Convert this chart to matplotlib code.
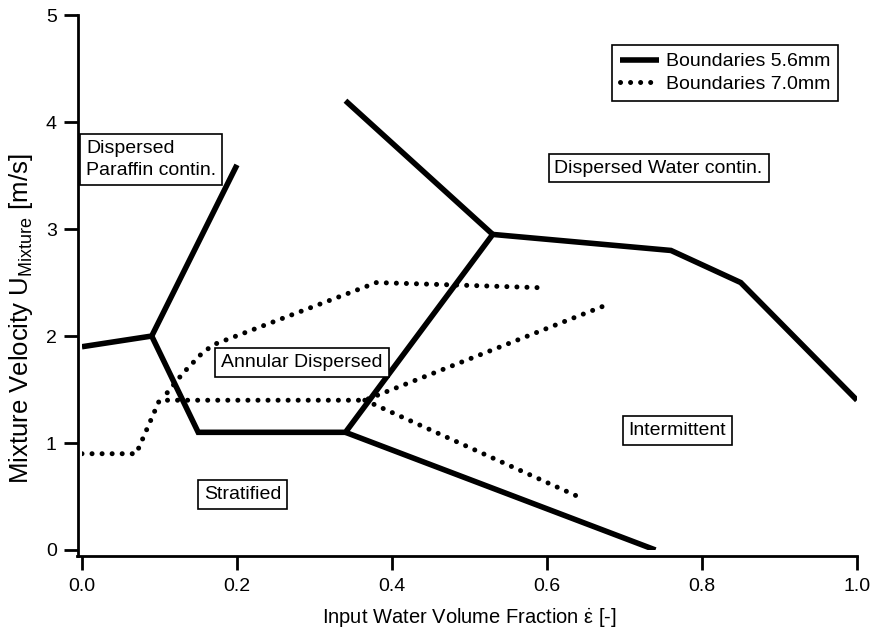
import numpy as np
import matplotlib
matplotlib.use('Agg')
import matplotlib.pyplot as plt

plt.rcParams['font.family'] = ['Liberation Sans', 'DejaVu Sans']
plt.rcParams['mathtext.fontset'] = 'custom'
plt.rcParams['mathtext.rm'] = 'Liberation Sans'
plt.rcParams['mathtext.it'] = 'Liberation Sans:italic'
plt.rcParams['font.size'] = 14

# Boundaries 5.6mm (solid), several polylines
solid_x = [[0.0, 0.09, 0.2],
           [0.09, 0.15, 0.34, 0.53, 0.76, 0.85, 1.0],
           [0.34, 0.74],
           [0.34, 0.53]]
solid_y = [[1.9, 2.0, 3.6],
           [2.0, 1.1, 1.1, 2.95, 2.8, 2.5, 1.4],
           [1.1, 0.0],
           [4.2, 2.95]]

# Boundaries 7.0mm (dotted)
dot_x = [[0.0, 0.07, 0.1, 0.365, 0.68],
         [0.365, 0.64],
         [0.11, 0.13, 0.155, 0.17, 0.38, 0.47, 0.6]]
dot_y = [[0.9, 0.9, 1.4, 1.4, 2.3],
         [1.4, 0.5],
         [1.47, 1.65, 1.84, 1.92, 2.5, 2.48, 2.45]]

regions = ['Dispersed\nParaffin contin.', 'Dispersed Water contin.',
           'Annular Dispersed', 'Stratified', 'Intermittent']
region_x = [0.089, 0.744, 0.284, 0.207, 0.768]
region_y = [3.65, 3.57, 1.75, 0.52, 1.117]

xticks = [0.0, 0.2, 0.4, 0.6, 0.8, 1.0]
yticks = [0, 1, 2, 3, 4, 5]

fig = plt.figure(figsize=(8.71, 6.3), dpi=100)
ax = fig.add_axes([0.0941, 0.127, 0.8898, 0.849])

for i, (xs, ys) in enumerate(zip(solid_x, solid_y)):
    ax.plot(xs, ys, color='black', lw=4, solid_capstyle='butt',
            solid_joinstyle='miter', label='Boundaries 5.6mm' if i == 0 else None)

for i, (xs, ys) in enumerate(zip(dot_x, dot_y)):
    ax.plot(xs, ys, color='black', lw=3.6, linestyle=(0, (0.01, 2.0)),
            dash_capstyle='round', label='Boundaries 7.0mm' if i == 0 else None)

for txt, tx, ty in zip(regions, region_x, region_y):
    ax.text(tx, ty, txt, ha='center', va='center', multialignment='left',
            linespacing=1.4, fontsize=14,
            bbox=dict(boxstyle='square,pad=0.3', fc='white', ec='black', lw=1.2))

ax.set_xlim(0, 1)
ax.set_ylim(0, 5)
ax.set_xticks(xticks)
ax.set_xticklabels(['%.1f' % v for v in xticks])
ax.set_yticks(yticks)

for side in ['top', 'right']:
    ax.spines[side].set_visible(False)
ax.spines['left'].set_position(('outward', 3.2))
ax.spines['bottom'].set_position(('outward', 4.3))
ax.spines['left'].set_linewidth(2)
ax.spines['bottom'].set_linewidth(2)
ax.spines['left'].set_bounds(-0.06, 5)
ax.spines['bottom'].set_bounds(-0.006, 1)
ax.tick_params(axis='both', direction='out', length=10, width=2, labelsize=14)
ax.tick_params(axis='y', pad=5)
ax.tick_params(axis='x', pad=6)

ax.set_xlabel(r'Input Water Volume Fraction $\mathrm{\dot{ε}}$ [-]', fontsize=14.5, labelpad=8)
ax.set_ylabel(r'Mixture Velocity U$_{\mathrm{Mixture}}$ [m/s]', fontsize=18.5)
ax.yaxis.set_label_coords(-0.06, 0.432)

leg = ax.legend(loc='upper right', bbox_to_anchor=(0.9755, 0.944), borderaxespad=0,
                fancybox=False, edgecolor='black', framealpha=1, fontsize=14,
                handlelength=2.0, handletextpad=0.36, borderpad=0.4, labelspacing=0.25)
leg.get_frame().set_linewidth(1.2)

fig.savefig('out.png', dpi=100)
